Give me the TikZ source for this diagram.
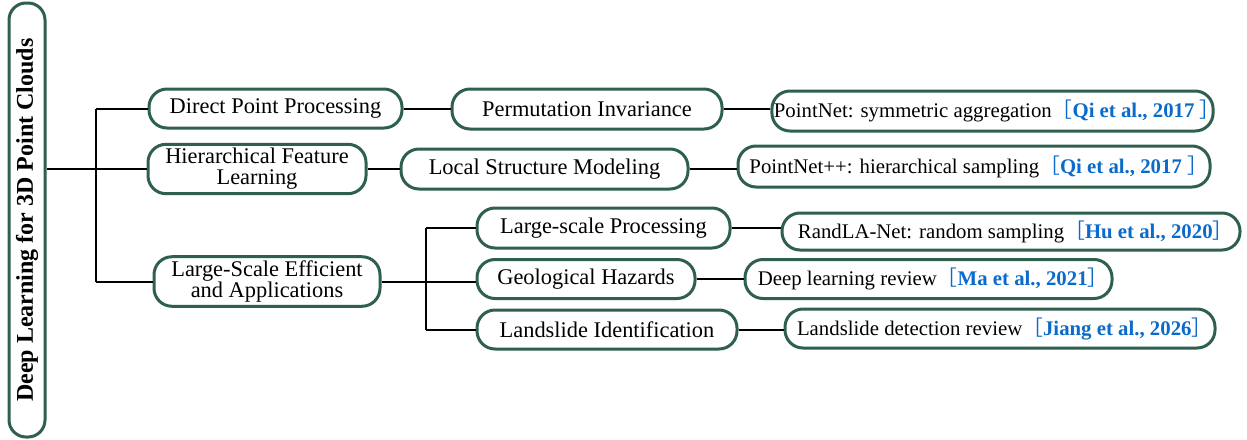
\documentclass[tikz,border=0pt]{standalone}
\usepackage{fontspec}
\setmainfont{Liberation Serif}
\newfontfamily\cjkfont{Noto Sans CJK SC}
\usetikzlibrary{positioning}
\definecolor{boxgreen}{HTML}{2F5F4F}
\definecolor{citeblue}{HTML}{0B6BCB}
\newcommand{\reftag}[1]{{\color{citeblue}{\cjkfont［}\textbf{#1}{\cjkfont］}\kern-0.45em}}
\tikzset{
      treebox/.style={
        rounded corners=9pt,
        draw=boxgreen,
        line width=1.5pt,
        fill=white,
        align=center,
        inner sep=2pt,
        font=\fontsize{11.2}{10.5}\selectfont
      },
      leafbox/.style={
        treebox,
        inner xsep=1pt,
        font=\fontsize{10.4}{12}\selectfont
      },
      link/.style={line width=1pt, color=black}
    }
\begin{document}
\begin{tikzpicture}[x=0.5pt,y=-0.5pt]
    \useasboundingbox (0,0) rectangle (1247,439);
    % root
    \node[treebox, minimum width=18pt, minimum height=217pt, rounded corners=8.5pt] (root) at (27,220) {};
    \node[rotate=90, font=\fontsize{12}{14}\selectfont\bfseries] (roottext) at (root.center) {Deep Learning for 3D Point Clouds};
    % first level
    \node[treebox, minimum width=126.5pt, minimum height=19.5pt] (direct) at (275.5,108.5) {Direct Point Processing};
    \node[treebox, minimum width=109pt, minimum height=24pt] (hier) at (257,169) {Hierarchical Feature\\Learning};
    \node[treebox, minimum width=113pt, minimum height=24.5pt] (large) at (267,281.5) {Large-Scale Efficient\\and Applications};
    % second level
    \node[treebox, minimum width=135pt, minimum height=20pt] (perm) at (587,109) {Permutation Invariance};
    \node[treebox, minimum width=143.5pt, minimum height=20pt] (local) at (544.5,169) {Local Structure Modeling};
    \node[treebox, minimum width=126.5pt, minimum height=20pt] (lsproc) at (603.5,228) {Large-scale Processing};
    \node[treebox, minimum width=109pt, minimum height=19.5pt] (geo) at (586,279) {Geological Hazards};
    \node[treebox, minimum width=130pt, minimum height=19.5pt] (lident) at (607,329.5) {Landslide Identification};
    % leaves with references
    \node[leafbox, minimum width=219.5pt, minimum height=20pt] (pnet) at (992.5,111) {PointNet: symmetric aggregation\reftag{Qi et al., 2017 }};
    \node[leafbox, minimum width=236pt, minimum height=20.5pt] (pnetpp) at (974,166.5) {PointNet++: hierarchical sampling\reftag{Qi et al., 2017 }};
    \node[leafbox, minimum width=229pt, minimum height=18.5pt] (randla) at (1011,231.5) {RandLA-Net: random sampling\reftag{Hu et al., 2020}};
    \node[leafbox, minimum width=183.5pt, minimum height=19.5pt] (deep) at (928.5,279) {Deep learning review\reftag{Ma et al., 2021}};
    \node[leafbox, minimum width=215pt, minimum height=19.5pt] (ldet) at (1000,328.5) {Landslide detection review\reftag{Jiang et al., 2026}};
    % junctions
    \coordinate (j1) at (96,169);
    \coordinate (j2) at (426,281.5);
    % connectors
    \draw[link] (root.east |- hier.west) -- (hier.west);
    \draw[link] (j1 |- direct.west) -- (j1 |- large.west);
    \draw[link] (j1 |- direct.west) -- (direct.west);
    \draw[link] (j1 |- large.west) -- (large.west);
    \draw[link] (direct.east) -- (direct.east -| perm.west);
    \draw[link] (hier.east) -- (hier.east -| local.west);
    \draw[link] (large.east) -- (j2);
    \draw[link] (j2 |- lsproc.west) -- (j2 |- lident.west);
    \draw[link] (j2 |- lsproc.west) -- (lsproc.west);
    \draw[link] (j2) -- (j2 -| geo.west);
    \draw[link] (j2 |- lident.west) -- (lident.west);
    \draw[link] (perm.east) -- (perm.east -| pnet.west);
    \draw[link] (local.east) -- (local.east -| pnetpp.west);
    \draw[link] (lsproc.east) -- (lsproc.east -| randla.west);
    \draw[link] (geo.east) -- (geo.east -| deep.west);
    \draw[link] (lident.east) -- (lident.east -| ldet.west);
\end{tikzpicture}
\end{document}
